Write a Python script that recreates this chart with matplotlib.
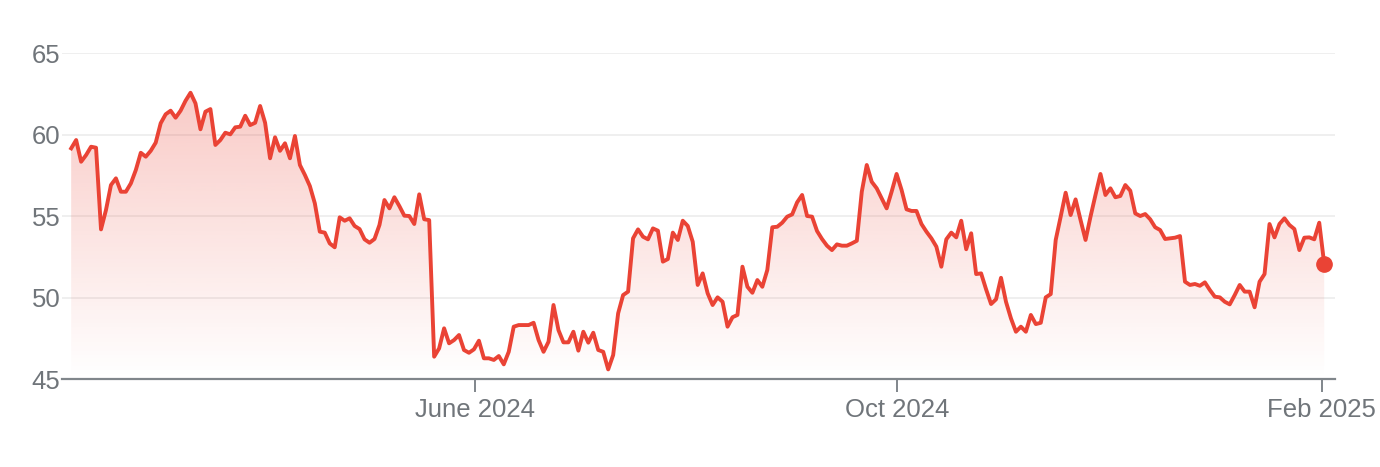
import matplotlib
matplotlib.use('Agg')
import matplotlib.pyplot as plt
import matplotlib.dates as mdates
import numpy as np
import pandas as pd

# closing prices, one per trading session
prices = [
    59.15, 59.66, 58.33, 58.74, 59.25, 59.19, 54.18, 55.37, 56.90, 57.31,
    56.49, 56.49, 57.00, 57.82, 58.88, 58.64, 59.00, 59.50, 60.69, 61.24,
    61.46, 61.03, 61.46, 62.07, 62.56, 61.91, 60.32, 61.40, 61.56, 59.36,
    59.66, 60.11, 60.01, 60.44, 60.48, 61.15, 60.58, 60.72, 61.75, 60.72,
    58.54,
    59.83, 59.00, 59.46, 58.54, 59.91, 58.13, 57.52, 56.84, 55.78, 54.04,
    53.98, 53.32, 53.08, 54.92, 54.71, 54.86, 54.39, 54.20, 53.57, 53.36,
    53.59, 54.45, 55.98, 55.47, 56.15, 55.61, 55.02, 55.00, 54.51, 56.33,
    54.80, 54.75, 46.37, 46.88, 48.11, 47.19, 47.39, 47.70, 46.78, 46.61,
    46.82, 47.35, 46.27,
    46.27, 46.17, 46.41, 45.90, 46.67, 48.21, 48.31, 48.31, 48.31, 48.45,
    47.39, 46.67, 47.29, 49.54, 48.00, 47.25, 47.25, 47.90, 46.74, 47.90,
    47.23, 47.84, 46.78, 46.67, 45.59, 46.47, 49.03, 50.15, 50.36, 53.63,
    54.18, 53.73, 53.57, 54.24, 54.10, 52.20, 52.36, 53.98, 53.53, 54.71,
    54.39, 53.42,
    50.77, 51.48, 50.26, 49.54, 50.01, 49.74, 48.21, 48.79, 48.93, 51.89,
    50.66, 50.29, 51.07, 50.66, 51.69, 54.31, 54.34, 54.59, 54.96, 55.10,
    55.84, 56.29, 55.00, 54.96, 54.08, 53.59, 53.18, 52.91, 53.26, 53.18,
    53.18, 53.32, 53.48, 56.49, 58.13, 57.10, 56.70, 56.08, 55.47, 56.49,
    57.58, 56.60,
    55.41, 55.31, 55.31, 54.51, 54.04, 53.63, 53.12, 51.89, 53.57, 53.98,
    53.69, 54.71, 52.96, 53.94, 51.44, 51.48, 50.50, 49.60, 49.89, 51.21,
    49.74, 48.72, 47.90, 48.21, 47.90, 48.93, 48.37, 48.45, 50.01, 50.21,
    53.53, 54.96, 56.43, 55.06, 56.02, 54.75, 53.53, 54.96, 56.29, 57.58,
    56.29, 56.70,
    56.15, 56.23, 56.90, 56.55, 55.16, 55.00, 55.12, 54.80, 54.31, 54.14,
    53.59, 53.63, 53.67, 53.77, 50.97, 50.77, 50.83, 50.72, 50.93, 50.46,
    50.05, 50.01, 49.74, 49.58, 50.15, 50.77, 50.36, 50.36, 49.40, 50.97,
    51.44, 54.51, 53.69, 54.51, 54.86, 54.45, 54.20, 52.91, 53.67, 53.69,
    53.57, 54.59, 52.06,
]
first_day = '2024-02-05'
last_day = '2025-02-01 16:00'
tick_dates = ['2024-06-01', '2024-10-01', '2025-02-01']
tick_labels = ['June 2024', 'Oct 2024', 'Feb 2025']
y_ticks = [45, 50, 55, 60, 65]

red = '#ea4335'
grey_axis = '#80868b'
grey_text = '#70757a'

dates = pd.date_range(first_day, last_day, periods=len(prices))
x = mdates.date2num(dates)
y = np.array(prices)

fig = plt.figure(figsize=(13.8, 4.67), dpi=100)
ax = fig.add_axes([0.0449, 0.1884, 0.9225, 0.6981])

xmin = mdates.date2num(pd.Timestamp('2024-02-02 08:00'))
xmax = mdates.date2num(pd.Timestamp('2025-02-04 19:00'))
ax.set_xlim(xmin, xmax)
ax.set_ylim(45, 65)

# gradient fill under the line
poly = ax.fill_between(x, y, 45, color='none', lw=0)
grad = np.zeros((256, 1, 4))
rgb = matplotlib.colors.to_rgb(red)
grad[:, 0, :3] = rgb
grad[:, 0, 3] = np.linspace(0.0, 0.32, 256)
im = ax.imshow(grad, extent=[xmin, xmax, 45, 65], origin='lower',
               aspect='auto', zorder=1)
im.set_clip_path(poly.get_paths()[0], transform=ax.transData)

ax.plot(x, y, color=red, lw=2.8, zorder=3)
ax.plot(x[-1], y[-1], 'o', ms=11, color=red, zorder=4, clip_on=False)

ax.set_yticks(y_ticks)
ax.set_yticklabels([str(v) for v in y_ticks])
ax.set_xticks(mdates.date2num(pd.to_datetime(tick_dates)))
ax.set_xticklabels(tick_labels)

ax.yaxis.grid(True, color='#ececec', lw=1.2, zorder=0)
ax.set_axisbelow(True)
for s in ['top', 'right', 'left']:
    ax.spines[s].set_visible(False)
ax.spines['bottom'].set_color(grey_axis)
ax.spines['bottom'].set_linewidth(1.6)
ax.spines['bottom'].set_zorder(5)

ax.tick_params(axis='x', direction='out', length=9, width=1.4,
               color=grey_axis, pad=5, labelsize=18.5, labelcolor=grey_text)
ax.tick_params(axis='y', length=0, pad=1, labelsize=18.5,
               labelcolor=grey_text)
for lab in ax.get_xticklabels() + ax.get_yticklabels():
    lab.set_fontfamily('Liberation Sans')

fig.savefig('out.png', dpi=100)
